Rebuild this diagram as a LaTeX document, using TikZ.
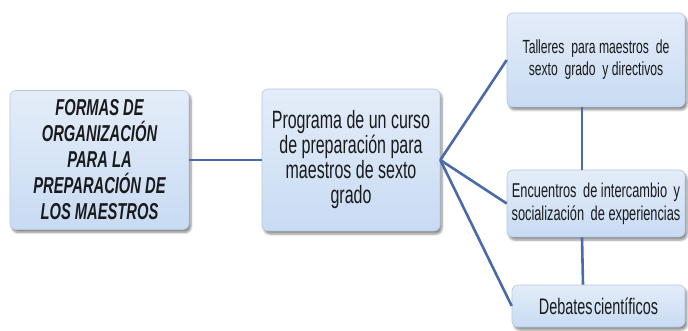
\documentclass[tikz,border=0pt]{standalone}
\usepackage{fontspec}
\setmainfont[FakeStretch=0.64]{Liberation Sans}
\usetikzlibrary{shadows.blur}
\definecolor{boxtop}{HTML}{E4EDF9}
\definecolor{boxbot}{HTML}{C8DBF3}
\definecolor{boxedge}{HTML}{B4C8E2}
\definecolor{linkcol}{HTML}{4A6BA8}
\definecolor{txt}{HTML}{1A1A1A}
\tikzset{
  mapbox/.style={rectangle, rounded corners=6pt, draw=boxedge, line width=0.6pt,
    top color=boxtop, bottom color=boxbot, text=txt, align=center, inner sep=2pt,
    blur shadow={shadow xshift=2pt, shadow yshift=-3pt, shadow blur steps=6, shadow opacity=45}},
  link/.style={draw=linkcol, line width=2.6pt}
}
\begin{document}
\begin{tikzpicture}[x=1pt,y=-1pt]
\useasboundingbox (0,0) rectangle (688,331);
\node[mapbox, minimum width=179pt, minimum height=139pt,
  font={\fontsize{23}{26}\selectfont\bfseries\itshape}] (b1) at (99.5,160)
  {FORMAS DE\\ORGANIZACIÓN\\PARA LA\\PREPARACIÓN DE\\LOS MAESTROS};
\node[mapbox, minimum width=178pt, minimum height=142pt,
  font={\fontsize{25}{25}\selectfont}] (b2) at (351,160)
  {Programa de un curso\\de preparación para\\maestros de sexto\\grado};
\node[mapbox, minimum width=178pt, minimum height=94pt,
  font={\fontsize{19}{22}\selectfont}] (b3) at (596,60)
  {Talleres\ \ para maestros\ \ de\\sexto\ \ grado\ \ y directivos};
\node[mapbox, minimum width=178pt, minimum height=67pt,
  font={\fontsize{20}{23}\selectfont}] (b4) at (596,203.5)
  {Encuentros\hspace{3pt} de intercambio\hspace{3pt} y\\socialización\hspace{3pt} de experiencias};
\node[mapbox, minimum width=173pt, minimum height=42pt,
  font={\fontsize{22.5}{22}\selectfont}] (b5) at (598.5,306)
  {Debates\hspace{1.5pt}científicos};
\draw[link] (b1.east) -- (b2.west);
\draw[link] (b2.east) -- (b3.west);
\draw[link] (b2.east) -- (b4.west);
\draw[link] (b2.east) -- (b5.west);
\draw[link] ([xshift=-14pt]b3.south) -- ([xshift=-14pt]b4.north);
\draw[link] ([xshift=-14pt]b4.south) -- ([xshift=-15.5pt]b5.north);
\end{tikzpicture}
\end{document}
